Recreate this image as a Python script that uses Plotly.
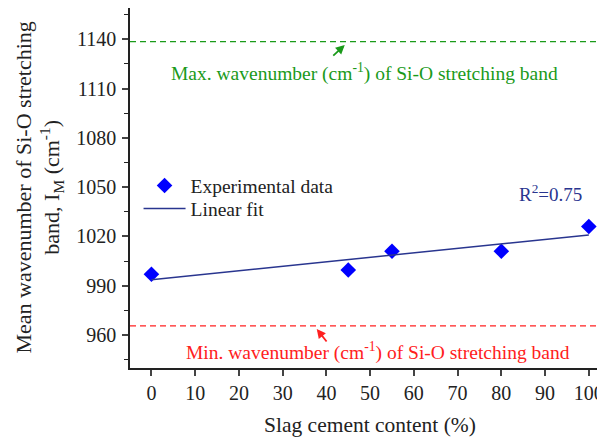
import numpy as np
import plotly.graph_objects as go

# Data
slag_content = [0, 45, 55, 80, 100]
mean_wavenumber = [997, 999.5, 1011, 1011, 1026]
max_wavenumber = 1138.5
min_wavenumber = 965.5
x_ticks = list(range(0, 101, 10))
y_ticks = list(range(960, 1141, 30))

# Linear fit
slope, intercept = np.polyfit(slag_content, mean_wavenumber, 1)
fit_x = [min(slag_content), max(slag_content)]
fit_y = [intercept + slope * v for v in fit_x]

FONT = "Liberation Serif, Times New Roman, serif"
GREEN = "#1a9a1a"
RED = "#ff2020"
NAVY = "#29358f"
fig = go.Figure()

fig.add_trace(go.Scatter(
    x=slag_content, y=mean_wavenumber, mode="markers", name="Experimental data",
    marker=dict(symbol="diamond", size=12, color="#0000ff"), legend="legend",
))
fig.add_trace(go.Scatter(
    x=fit_x, y=fit_y, mode="lines", name="Linear fit",
    line=dict(color=NAVY, width=1.5), legend="legend2",
))

x_range = [-4.9, 103.7]
fig.add_trace(go.Scatter(
    x=x_range, y=[max_wavenumber] * 2, mode="lines", showlegend=False,
    line=dict(color=GREEN, width=1.3, dash="6px,4px"), hoverinfo="skip",
))
fig.add_trace(go.Scatter(
    x=x_range, y=[min_wavenumber] * 2, mode="lines", showlegend=False,
    line=dict(color=RED, width=1.3, dash="6px,4px"), hoverinfo="skip",
))

annotations = [
    dict(x=48.6, y=1120, text="Max. wavenumber (cm<sup>-1</sup>) of Si-O stretching band",
         showarrow=False, font=dict(family=FONT, size=19.5, color=GREEN)),
    dict(x=44.2, y=1136.5, ax=-13, ay=12, text="", showarrow=True, arrowhead=2,
         arrowsize=1, arrowwidth=1.8, arrowcolor=GREEN),
    dict(x=51.7, y=949.7, text="Min. wavenumber (cm<sup>-1</sup>) of Si-O stretching band",
         showarrow=False, font=dict(family=FONT, size=19.5, color=RED)),
    dict(x=37.8, y=963.6, ax=11, ay=14, text="", showarrow=True, arrowhead=2,
         arrowsize=1, arrowwidth=1.8, arrowcolor=RED),
    dict(x=91.2, y=1046.5, text="R<sup>2</sup>=0.75", showarrow=False,
         font=dict(family=FONT, size=19, color=NAVY)),
    dict(x=-0.1926, y=0.5, xref="paper", yref="paper", textangle=-90,
         xanchor="center", yanchor="middle",
         text="Mean wavenumber of Si-O stretching<br>band, I<sub>M</sub> (cm<sup>-1</sup>)",
         showarrow=False, font=dict(family=FONT, size=22, color="#222")),
    dict(x=0.505, y=-0.158, xref="paper", yref="paper", xanchor="center", yanchor="middle",
         text="Slag cement content (%)", showarrow=False,
         font=dict(family=FONT, size=21.5, color="#222")),
]

legend_style = dict(xanchor="left", yanchor="middle", bgcolor="rgba(0,0,0,0)",
                    font=dict(family=FONT, size=19.5, color="#222"), itemwidth=42)

fig.update_layout(
    width=597, height=430,
    margin=dict(l=122, r=0, t=0, b=70, autoexpand=False),
    plot_bgcolor="white", paper_bgcolor="white",
    font=dict(family=FONT, size=20, color="#222"),
    showlegend=True,
    legend=dict(x=0.018, y=0.506, **legend_style),
    legend2=dict(x=0.018, y=0.442, **legend_style),
    annotations=annotations,
    xaxis=dict(
        range=x_range, tickvals=x_ticks, ticks="outside", ticklen=6, tickwidth=1.5,
        showline=True, linecolor="#222", linewidth=1.5, mirror=True,
        showgrid=False, zeroline=False,
        tickfont=dict(family=FONT, size=20),
    ),
    yaxis=dict(
        range=[939.9, 1159], tickvals=y_ticks, ticks="outside", ticklen=6, tickwidth=1.5,
        minor=dict(dtick=15, tick0=945, ticks="outside", ticklen=4, tickwidth=1.2, tickcolor="#222"),
        showline=True, linecolor="#222", linewidth=1.5,
        showgrid=False, zeroline=False, ticklabelstandoff=2,
        tickfont=dict(family=FONT, size=20),
    ),
)

fig.write_html("out.html")
